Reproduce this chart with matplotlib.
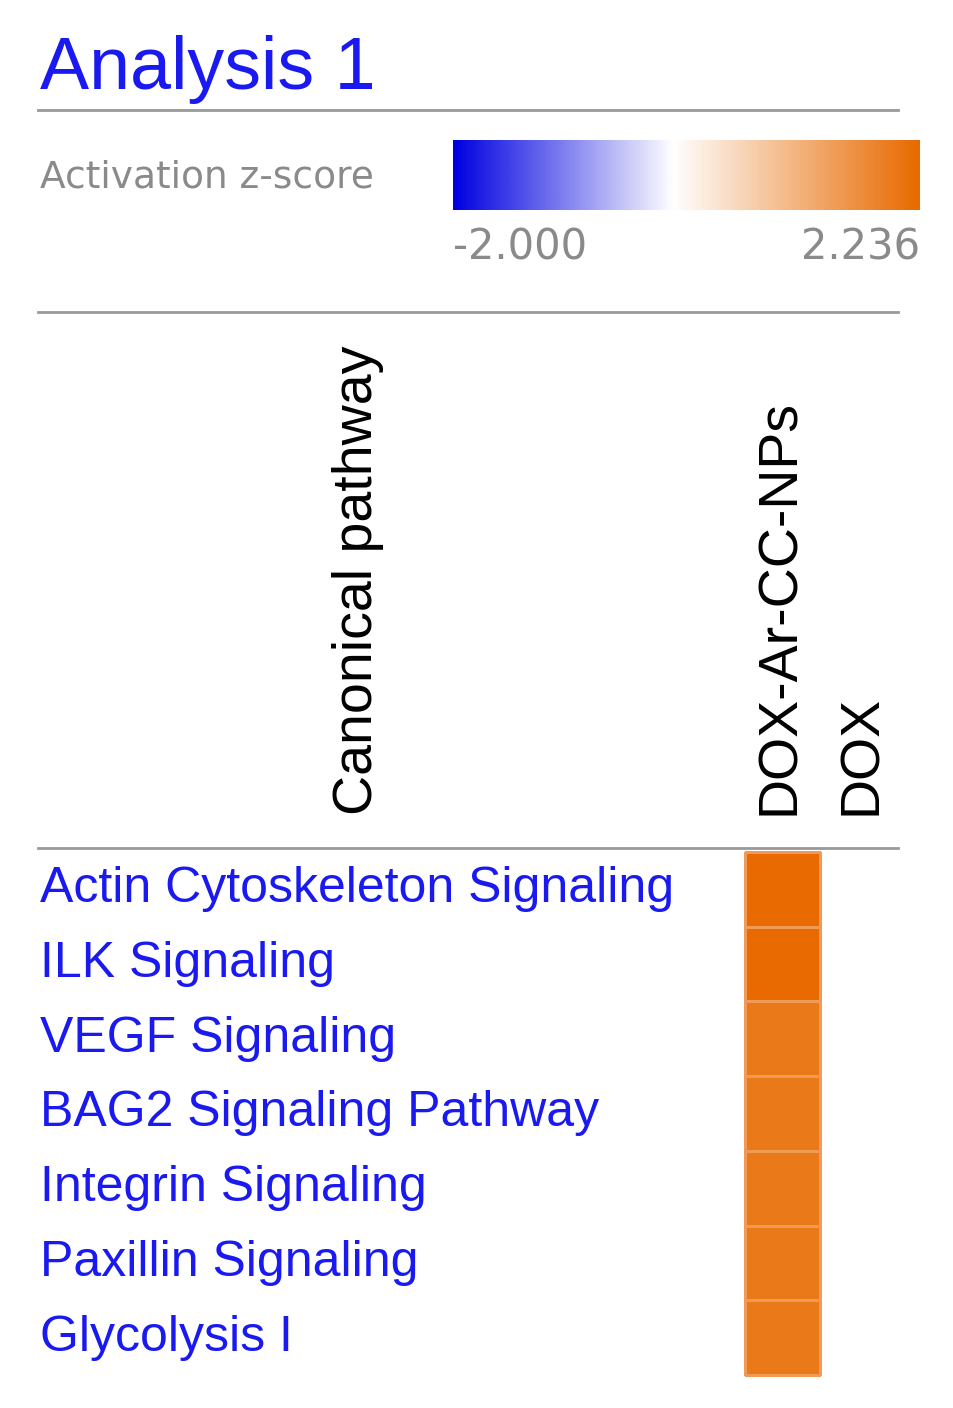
import numpy as np
import matplotlib.pyplot as plt
from matplotlib.colors import LinearSegmentedColormap, TwoSlopeNorm

plt.rcParams['font.family'] = ['Liberation Sans', 'DejaVu Sans']

title = "Analysis 1"
pathways = ["Actin Cytoskeleton Signaling", "ILK Signaling", "VEGF Signaling",
            "BAG2 Signaling Pathway", "Integrin Signaling", "Paxillin Signaling",
            "Glycolysis I"]
columns = ["DOX-Ar-CC-NPs", "DOX"]
zscores_np = [2.236, 2.236, 2.0, 2.0, 2.0, 2.0, 2.0]
zmin, zmax = -2.000, 2.236

BLUE = "#1a1af0"
GRAY = "#8a8a8a"
cmap = LinearSegmentedColormap.from_list(
    "z", [(0, "#0000e0"), (0.5, "#ffffff"), (1, "#e86a00")])
norm = TwoSlopeNorm(vmin=zmin, vcenter=0, vmax=zmax)

fig = plt.figure(figsize=(9.54, 14.08), dpi=100)
ax = fig.add_axes([0, 0, 1, 1])
ax.set_xlim(0, 954)
ax.set_ylim(1408, 0)
ax.axis('off')

ax.text(40, 70, title, color=BLUE, fontsize=53, va='center', ha='left')
for y in (110, 312, 848):
    ax.plot([38, 898], [y, y], color="#999999", lw=2)

# colour scale bar
grad = np.linspace(zmin, zmax, 300).reshape(1, -1)
ax.imshow(grad, cmap=cmap, norm=norm, extent=[453, 920, 210, 140], aspect='auto')
ax.text(40, 177, "Activation z-score", color=GRAY, fontsize=27, va='center',
        family='DejaVu Sans')
ax.text(453, 248, f"{zmin:.3f}", color=GRAY, fontsize=30, va='center', ha='left',
        family='DejaVu Sans')
ax.text(920, 248, f"{zmax:.3f}", color=GRAY, fontsize=30, va='center', ha='right',
        family='DejaVu Sans')

# column headers
ax.text(358, 815, "Canonical pathway", rotation=90, fontsize=40, va='bottom', ha='center')
for x, c in zip((780, 862), columns):
    ax.text(x, 815, c, rotation=90, fontsize=40, va='bottom', ha='center')

# heatmap cells (DOX column has no values)
data = np.array([zscores_np]).T
x_edges = [745, 820]
y_edges = np.linspace(852, 1375, len(pathways) + 1)
ax.pcolormesh(x_edges, y_edges, data, cmap=cmap, norm=norm,
              edgecolors="#f09a5a", linewidth=0.8)

for i, p in enumerate(pathways):
    yc = (y_edges[i] + y_edges[i + 1]) / 2
    ax.text(40, yc, p, color=BLUE, fontsize=36, va='center', ha='left')

fig.savefig("out.png", dpi=100)
